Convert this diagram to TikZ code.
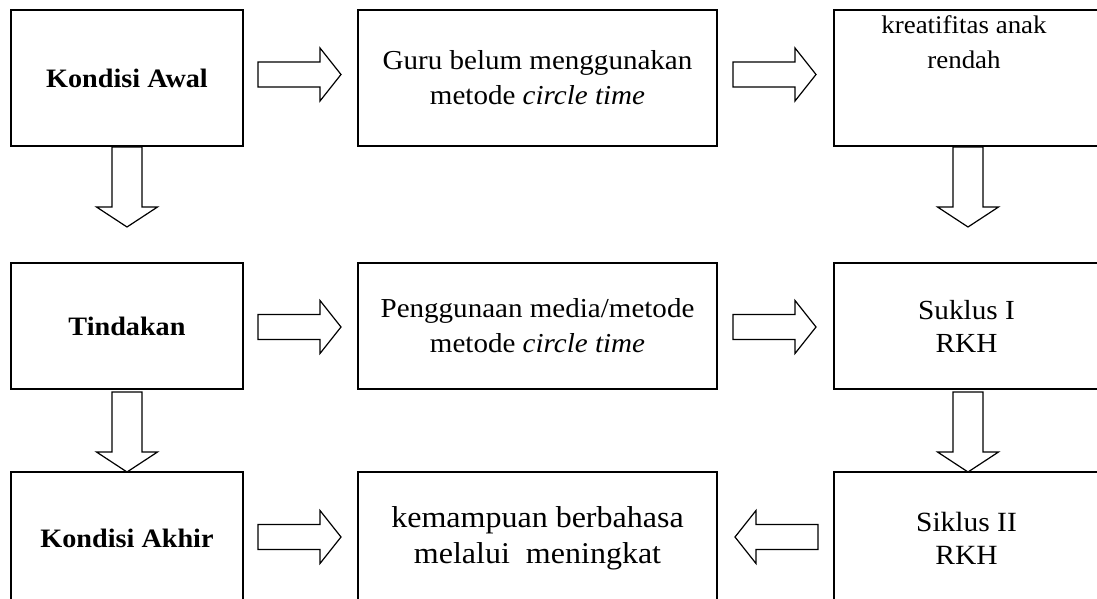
\documentclass[tikz,border=0pt]{standalone}
\usepackage{fontspec}
\setmainfont{Liberation Serif}[FakeStretch=1.06]
\begin{document}
\begin{tikzpicture}[x=1pt,y=-1pt,
  box/.style={draw, line width=2pt, inner sep=0pt, align=center, font=\fontsize{27.4}{35}\selectfont},
  boldbox/.style={box, font=\fontsize{26.6}{35}\selectfont\bfseries},
  blockarrow/.style={draw, line width=1.2pt, line join=miter, fill=white},
  rarr/.pic={\draw[blockarrow] (0,-12.5) -- (62,-12.5) -- (62,-26.5) -- (83,0) -- (62,26.5) -- (62,12.5) -- (0,12.5) -- cycle;},
  larr/.pic={\draw[blockarrow] (0,-12.5) -- (-62,-12.5) -- (-62,-26.5) -- (-83,0) -- (-62,26.5) -- (-62,12.5) -- (0,12.5) -- cycle;},
  darr/.pic={\draw[blockarrow] (-15,0) -- (-15,60) -- (-30.5,60) -- (0,80) -- (30.5,60) -- (15,60) -- (15,0) -- cycle;}
]
\useasboundingbox (0,0) rectangle (1097,599);
\clip (0,0) rectangle (1097,599);

% row 1
\node[boldbox, minimum width=232, minimum height=136] (awal) at (127,78) {Kondisi Awal};
\node[box, minimum width=359, minimum height=136] (guru) at (537.5,78) {Guru belum menggunakan\\metode \textit{circle time}};
\node[box, minimum width=265, minimum height=136] (kreat) at (966.5,78) {};
\node[anchor=north, inner sep=0pt, align=center, font=\fontsize{25.4}{35}\selectfont] (kreattext) at (964,15) {kreatifitas anak\\rendah};

% row 2
\node[boldbox, minimum width=232, minimum height=126] (tindakan) at (127,326) {Tindakan};
\node[box, minimum width=359, minimum height=126] (penggunaan) at (537.5,326) {Penggunaan media/metode\\metode \textit{circle time}};
\node[box, minimum width=265, minimum height=126, font=\fontsize{27.6}{33}\selectfont] (suklus) at (966.5,326) {Suklus I\\RKH};

% row 3
\node[boldbox, minimum width=232, minimum height=132] (akhir) at (127,538) {Kondisi Akhir};
\node[box, minimum width=359, minimum height=132, font=\fontsize{30.2}{36}\selectfont] (kemampuan) at (537.5,538) {kemampuan berbahasa\\melalui\ \ meningkat};
\node[box, minimum width=265, minimum height=132, font=\fontsize{27.8}{33}\selectfont] (siklus) at (966.5,538) {Siklus II\\RKH};

% block arrows
\pic at (258,74.5) {rarr};
\pic at (733,74.5) {rarr};
\pic at (258,327) {rarr};
\pic at (733,327) {rarr};
\pic at (258,537) {rarr};
\pic at (818,537) {larr};
\pic at (127,147) {darr};
\pic at (968,147) {darr};
\pic at (127,392) {darr};
\pic at (968,392) {darr};
\end{tikzpicture}
\end{document}
